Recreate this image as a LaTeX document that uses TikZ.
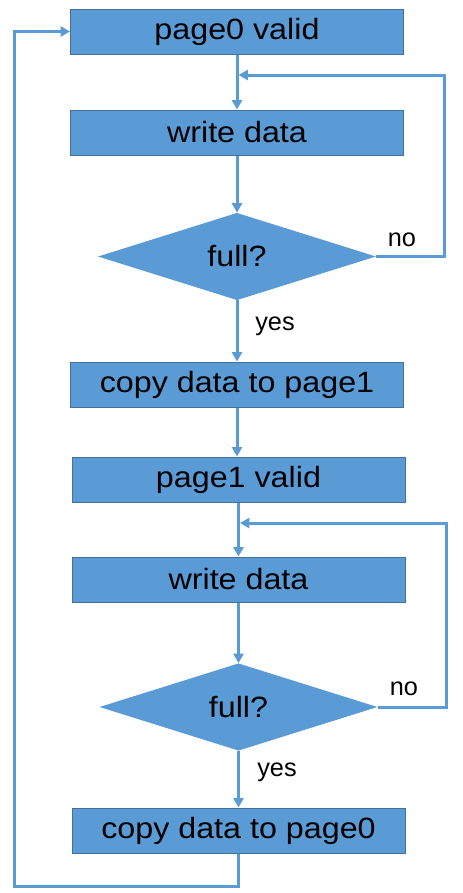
\documentclass[tikz,border=0pt]{standalone}
\usepackage{fontspec}
\setmainfont{Liberation Sans}[FakeStretch=1.1]
\newfontfamily\lblfont{Liberation Sans}
\usepackage{tikz}
\usetikzlibrary{arrows.meta,positioning,shapes.geometric}
\definecolor{boxblue}{HTML}{5B9BD5}
\definecolor{boxedge}{HTML}{41719C}

\begin{document}
\begin{tikzpicture}[x=0.75pt,y=-0.75pt,
  stepbox/.style={draw=boxedge,line width=0.75pt,fill=boxblue,minimum width=249.75pt,minimum height=33.75pt,inner sep=0pt,font=\fontsize{22}{25}\selectfont},
  testbox/.style={diamond,fill=boxblue,minimum width=208.5pt,minimum height=65.5pt,inner sep=0pt,font=\fontsize{22}{25}\selectfont},
  flow/.style={boxblue,line width=2.25pt,-{Triangle[length=7pt,width=7.5pt]}},
  lbl/.style={font=\lblfont\fontsize{19}{22}\selectfont,inner sep=0pt}]
  \useasboundingbox (0,0) rectangle (463,893);
  % first page
  \node[stepbox] (p0) at (237,31.5) {page0 valid};
  \node[stepbox] (wd0) at (237,132.5) {write data};
  \node[testbox] (full0) at (237,256.5) {full?};
  \node[stepbox] (cp1) at (237,384.5) {copy data to page1};
  % second page
  \node[stepbox] (p1) at (238.5,479.5) {page1 valid};
  \node[stepbox] (wd1) at (238.5,579.5) {write data};
  \node[testbox] (full1) at (238.5,707) {full?};
  \node[stepbox] (cp0) at (238.5,830.5) {copy data to page0};
  % main line
  \draw[flow] (p0) -- (wd0);
  \draw[flow] (wd0) -- (full0);
  \draw[flow] (full0) -- (cp1);
  \draw[flow] (cp1.south) -- (cp1.south |- p1.north);
  \draw[flow] (p1) -- (wd1);
  \draw[flow] (wd1) -- (full1);
  \draw[flow] (full1) -- (cp0);
  % loops back on "no"
  \coordinate (j0) at (238.5,75);
  \coordinate (j1) at (240,523);
  \draw[flow] (full0.east) -- (444,256.5) |- (j0);
  \draw[flow] (full1.east) -- (446,707) |- (j1);
  \node[lbl] (no0) at (402,240) {no};
  \node[lbl] (no1) at (404,689) {no};
  \node[lbl] (yes0) at (275,326) {yes};
  \node[lbl] (yes1) at (277,772) {yes};
  % back to page0
  \coordinate (b0) at (238.5,886);
  \coordinate (b1) at (14,886);
  \draw[flow] (cp0.south) -- (b0) -- (b1) |- (p0.west);
\end{tikzpicture}
\end{document}
